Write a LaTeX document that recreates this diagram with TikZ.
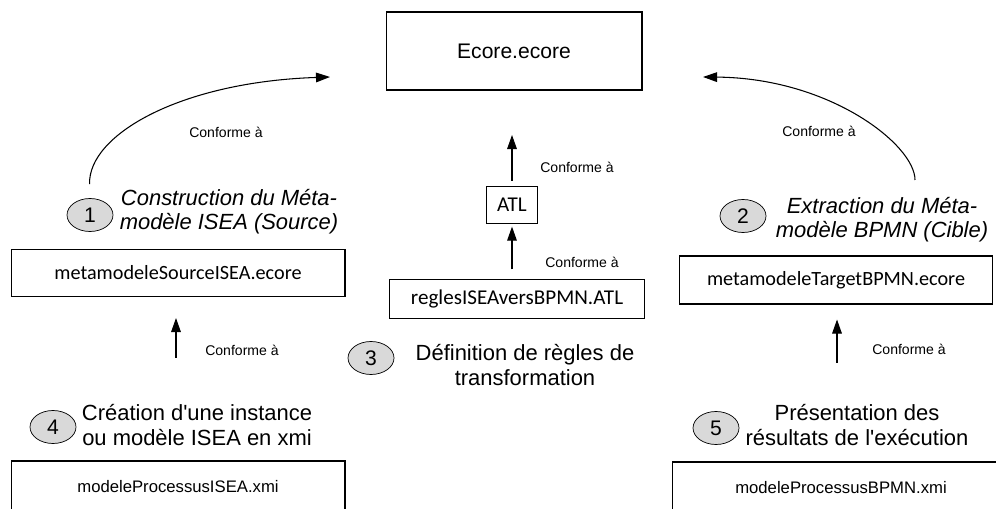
\documentclass[tikz,border=0pt]{standalone}
\usepackage{fontspec}
\setmainfont{Liberation Sans}
\newfontfamily\calibri{Carlito}
\usetikzlibrary{arrows.meta,positioning,shapes.geometric}
\definecolor{grisclair}{HTML}{D9D9D9}

\begin{document}
\begin{tikzpicture}[
  x=0.02cm, y=-0.02cm,
  fichier/.style={rectangle, draw, line width=0.6pt, inner sep=0pt, align=center},
  pastille/.style={ellipse, draw, fill=grisclair, minimum width=0.92cm,
                   minimum height=0.66cm, inner sep=0pt, font=\fontsize{12}{14}\selectfont},
  etape/.style={align=center, inner sep=1pt, font=\fontsize{12.5}{13.8}\selectfont},
  etapeit/.style={etape, font=\fontsize{12.5}{13.8}\selectfont\itshape},
  conforme/.style={inner sep=1pt, font=\fontsize{8}{9}\selectfont},
  lien/.style={-{Triangle[length=8pt,width=5.5pt]}, line width=0.6pt},
]
\useasboundingbox (0,0) rectangle (996,509);
\clip (0,0) rectangle (996,509);

% fichiers
\node[fichier, minimum width=5.12cm, minimum height=1.56cm,
      font=\fontsize{12}{14}\selectfont] (ecore) at (514,51) {Ecore.ecore};
\node[fichier, minimum width=1.02cm, minimum height=0.74cm,
      font=\calibri\fontsize{12}{14}\selectfont] (atl) at (512,205) {ATL};
\node[fichier, minimum width=5.1cm, minimum height=0.78cm,
      font=\calibri\fontsize{12}{14}\selectfont] (regles) at (517,299) {reglesISEAversBPMN.ATL};
\node[fichier, minimum width=6.68cm, minimum height=0.94cm,
      font=\calibri\fontsize{11.5}{14}\selectfont] (source) at (178,273) {metamodeleSourceISEA.ecore};
\node[fichier, minimum width=6.26cm, minimum height=0.96cm,
      font=\calibri\fontsize{11.5}{14}\selectfont] (cible) at (836,280) {metamodeleTargetBPMN.ecore};
\node[fichier, minimum width=6.68cm, minimum height=1.04cm,
      font=\fontsize{9.5}{11}\selectfont] (instance) at (178,487) {modeleProcessusISEA.xmi};
\node[fichier, minimum width=6.76cm, minimum height=1.04cm,
      font=\fontsize{9.5}{11}\selectfont] (resultat) at (841,488) {modeleProcessusBPMN.xmi};

% etapes
\node[etapeit] (etape1) at (229,212) {Construction du Méta-\\modèle ISEA (Source)};
\node[etapeit] (etape2) at (882,220) {Extraction du Méta-\\modèle BPMN (Cible)};
\node[etape] (etape3) at (525,365) {Définition de règles de\\transformation};
\node[etape] (etape4) at (197,425) {Création d\textquotesingle une instance\\ou modèle ISEA en xmi};
\node[etape] (etape5) at (857,425) {Présentation des\\résultats de l\textquotesingle exécution};

\node[pastille] (n1) at (90,215) {1};
\node[pastille] (n2) at (743,216) {2};
\node[pastille] (n3) at (371,358) {3};
\node[pastille] (n4) at (53,427) {4};
\node[pastille] (n5) at (716,428) {5};

% conforme a
\node[conforme] (cf1) at (226,132) {Conforme à};
\node[conforme] (cf2) at (819,131) {Conforme à};
\node[conforme] (cf3) at (577,167) {Conforme à};
\node[conforme] (cf4) at (582,262) {Conforme à};
\node[conforme] (cf5) at (242,350) {Conforme à};
\node[conforme] (cf6) at (909,349) {Conforme à};

\coordinate (pointeG) at (330,77);
\coordinate (pointeD) at (703,77);
\coordinate (departD) at (915,180);
\coordinate (pointeM) at (512,135);
\coordinate (baseG) at (176,358);
\coordinate (baseD) at (837,363);

\draw[lien, shorten <=0.28cm] (n1.north) .. controls (88,135) and (180,82) .. (pointeG);
\draw[lien] (departD) .. controls (915,145) and (830,78) .. (pointeD);
\draw[lien, shorten <=3pt] (atl.north) -- (pointeM);
\draw[lien, shorten <=5.5pt, shorten >=1.5pt] (regles.north -| atl) -- (atl.south);
\draw[lien, shorten >=0.42cm] (baseG) -- (baseG |- source.south);
\draw[lien, shorten >=0.3cm] (baseD) -- (baseD |- cible.south);

\end{tikzpicture}
\end{document}
